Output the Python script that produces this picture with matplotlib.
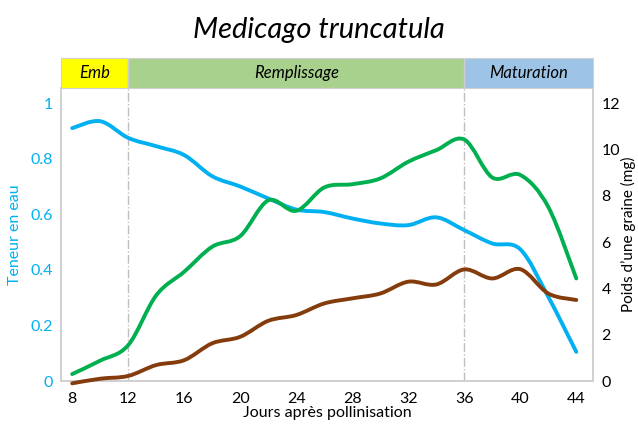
import matplotlib.pyplot as plt
from matplotlib.path import Path
from matplotlib.patches import PathPatch
import numpy as np

plt.rcParams['font.family'] = ['Lato', 'DejaVu Sans']

days = [8, 10, 12, 14, 16, 18, 20, 22, 24, 26, 28, 30, 32, 34, 36, 38, 40, 42, 44]
eau = [0.91, 0.935, 0.875, 0.845, 0.813, 0.737, 0.70, 0.657, 0.617, 0.608, 0.585,
       0.567, 0.561, 0.589, 0.543, 0.495, 0.474, 0.303, 0.105]
poids_frais = [0.3, 0.88, 1.55, 3.7, 4.72, 5.8, 6.26, 7.8, 7.35, 8.36, 8.5,
               8.75, 9.47, 9.97, 10.43, 8.79, 8.9, 7.52, 4.43]
poids_sec = [-0.1, 0.1, 0.22, 0.69, 0.9, 1.63, 1.91, 2.6, 2.85, 3.35, 3.57,
             3.78, 4.29, 4.17, 4.82, 4.43, 4.83, 3.78, 3.5]

phases = ['Emb', 'Remplissage', 'Maturation']
phase_bounds = [7.2, 12, 36, 45.2]
phase_colors = ['#FFFF00', '#A9D18E', '#9DC3E6']


def smooth_line(ax, x, y, color):
    # Catmull-Rom -> cubic Bezier, drawn as a matplotlib path (Excel-like smoothing)
    x = np.asarray(x, float)
    y = np.asarray(y, float)
    pts = np.column_stack([x, y])
    verts = [pts[0]]
    codes = [Path.MOVETO]
    n = len(pts)
    for i in range(n - 1):
        p0 = pts[i - 1] if i > 0 else pts[i]
        p1 = pts[i]
        p2 = pts[i + 1]
        p3 = pts[i + 2] if i + 2 < n else pts[i + 1]
        c1 = p1 + (p2 - p0) / 6
        c2 = p2 - (p3 - p1) / 6
        verts += [c1, c2, p2]
        codes += [Path.CURVE4] * 3
    patch = PathPatch(Path(verts, codes), facecolor='none', edgecolor=color,
                      lw=2.8, capstyle='round', zorder=3, clip_on=False)
    ax.add_patch(patch)


fig = plt.figure(figsize=(6.38, 4.32), dpi=100)
ax = fig.add_axes([0.0956, 0.118, 0.834, 0.678])
ax2 = ax.twinx()

ax.set_xlim(7.2, 45.2)
ax.set_ylim(0, 1.054)
ax2.set_ylim(0, 12.65)

smooth_line(ax, days, eau, '#00B0F0')
smooth_line(ax2, days, poids_frais, '#00B050')
smooth_line(ax2, days, poids_sec, '#843C0C')

for xv in [12, 36]:
    ax.axvline(xv, color='#BFBFBF', ls='-.', lw=1, zorder=1)

ax.set_xticks(range(8, 45, 4))
ax.set_yticks([0, 0.2, 0.4, 0.6, 0.8, 1])
ax.set_yticklabels(['0', '0.2', '0.4', '0.6', '0.8', '1'])
ax2.set_yticks(range(0, 13, 2))
ax.tick_params(axis='x', length=0, labelsize=11.5, pad=8)
ax.tick_params(axis='y', length=0, labelsize=11.5, labelcolor='#00B0F0', pad=6)
ax2.tick_params(axis='y', length=0, labelsize=11.5, pad=6)

for a in (ax, ax2):
    a.spines['top'].set_visible(False)
    for s in ['left', 'bottom', 'right']:
        a.spines[s].set_color('#D0D0D0')
        a.spines[s].set_linewidth(1.2)

ax.set_ylabel('Teneur en eau', color='#00B0F0', fontsize=11.5, labelpad=6)
ax2.set_ylabel('Poids d\u2019une graine (mg)', fontsize=11, labelpad=1)
ax.set_xlabel('Jours après pollinisation', fontsize=11.5, labelpad=0)

# phase band
band = fig.add_axes([0.0956, 0.796, 0.834, 0.069])
band.set_xlim(7.2, 45.2)
band.set_ylim(0, 1)
for i, name in enumerate(phases):
    x0, x1 = phase_bounds[i], phase_bounds[i + 1]
    band.axvspan(x0, x1, color=phase_colors[i], zorder=0)
    band.text((x0 + x1) / 2, 0.5, name, style='italic', fontsize=12,
              ha='center', va='center')
band.axvline(12, color='#D0D0D0', lw=1)
band.axvline(36, color='#D0D0D0', lw=1)
band.set_xticks([])
band.set_yticks([])
for s in band.spines.values():
    s.set_color('#D0D0D0')

fig.text(0.5, 0.93, 'Medicago truncatula', style='italic', fontsize=21,
         ha='center', va='center')

fig.savefig('out.png', dpi=100)
